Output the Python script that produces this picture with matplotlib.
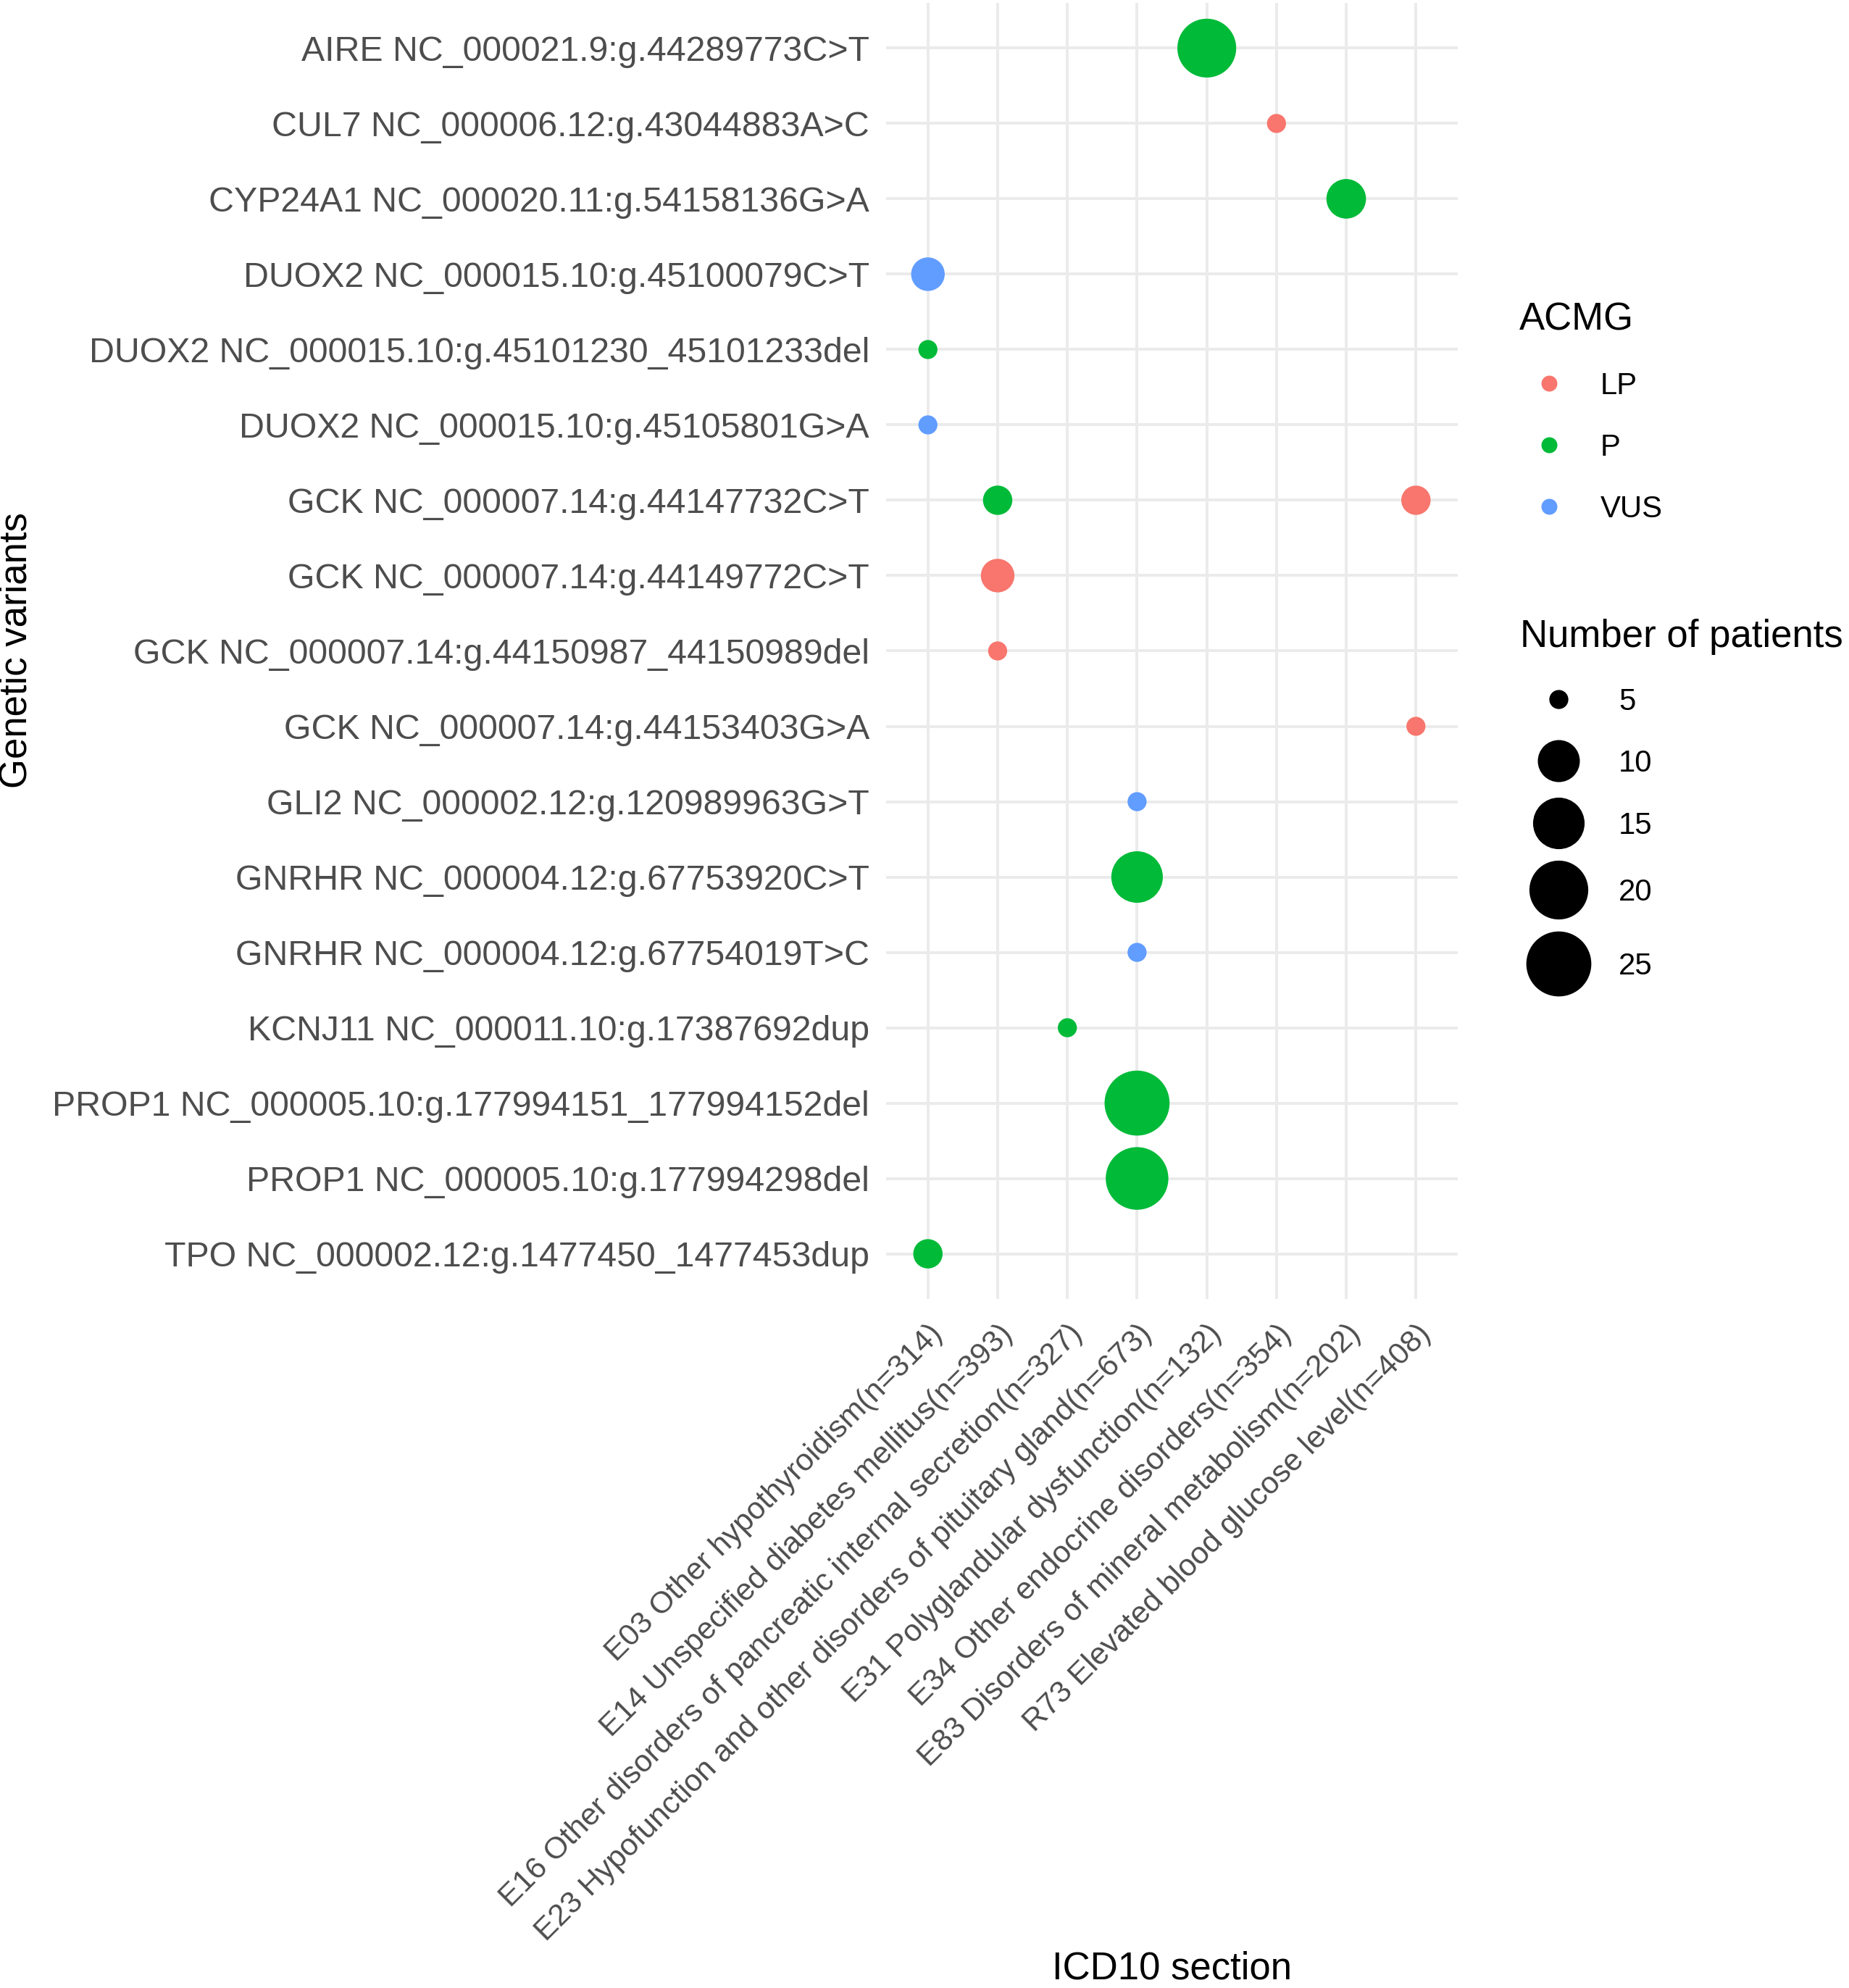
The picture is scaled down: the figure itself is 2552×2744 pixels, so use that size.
import matplotlib
matplotlib.use('Agg')
import matplotlib.pyplot as plt
import numpy as np

plt.rcParams['font.family'] = ['Liberation Sans', 'DejaVu Sans']

# ---------------- data ----------------
variants = [
    "AIRE NC_000021.9:g.44289773C>T",
    "CUL7 NC_000006.12:g.43044883A>C",
    "CYP24A1 NC_000020.11:g.54158136G>A",
    "DUOX2 NC_000015.10:g.45100079C>T",
    "DUOX2 NC_000015.10:g.45101230_45101233del",
    "DUOX2 NC_000015.10:g.45105801G>A",
    "GCK NC_000007.14:g.44147732C>T",
    "GCK NC_000007.14:g.44149772C>T",
    "GCK NC_000007.14:g.44150987_44150989del",
    "GCK NC_000007.14:g.44153403G>A",
    "GLI2 NC_000002.12:g.120989963G>T",
    "GNRHR NC_000004.12:g.67753920C>T",
    "GNRHR NC_000004.12:g.67754019T>C",
    "KCNJ11 NC_000011.10:g.17387692dup",
    "PROP1 NC_000005.10:g.177994151_177994152del",
    "PROP1 NC_000005.10:g.177994298del",
    "TPO NC_000002.12:g.1477450_1477453dup",
]

icd10 = [
    "E03 Other hypothyroidism(n=314)",
    "E14 Unspecified diabetes mellitus(n=393)",
    "E16 Other disorders of pancreatic internal secretion(n=327)",
    "E23 Hypofunction and other disorders of pituitary gland(n=673)",
    "E31 Polyglandular dysfunction(n=132)",
    "E34 Other endocrine disorders(n=354)",
    "E83 Disorders of mineral metabolism(n=202)",
    "R73 Elevated blood glucose level(n=408)",
]
icd_codes = [s.split(" ")[0] for s in icd10]

point_variant = [0, 1, 2, 3, 4, 5, 6, 6, 7, 8, 9, 10, 11, 12, 13, 14, 15, 16]
point_icd = ["E31", "E34", "E83", "E03", "E03", "E03", "E14", "R73", "E14",
             "E14", "R73", "E23", "E23", "E23", "E16", "E23", "E23", "E03"]
point_acmg = ["P", "LP", "P", "VUS", "P", "VUS", "P", "LP", "LP",
              "LP", "LP", "VUS", "P", "VUS", "P", "P", "P", "P"]
point_n = [20, 5, 9, 7, 5, 5, 6, 6, 7, 5, 5, 5, 15, 5, 5, 25, 23, 6]

acmg_levels = ["LP", "P", "VUS"]
acmg_colors = {"LP": "#F8766D", "P": "#00BA38", "VUS": "#619CFF"}
size_breaks = [5, 10, 15, 20, 25]

# ---------------- figure ----------------
W, H, DPI = 2552, 2744, 200
fig = plt.figure(figsize=(W / DPI, H / DPI), dpi=DPI)

px_left, px_right, px_top, px_bottom = 1223, 2012, 4, 1793
ax = fig.add_axes([px_left / W, 1 - px_bottom / H,
                   (px_right - px_left) / W, (px_bottom - px_top) / H])

vmin, vmax = min(point_n), max(point_n)
dmin_px, dmax_px = 26.3, 89.7


def diam_px(v):
    v = np.asarray(v, dtype=float)
    return dmin_px + (dmax_px - dmin_px) * np.sqrt((v - vmin) / (vmax - vmin))


def s_of(d_px):
    return (np.asarray(d_px) * 72.0 / DPI) ** 2


xs = [icd_codes.index(c) for c in point_icd]
ys = point_variant
cols = [acmg_colors[a] for a in point_acmg]
ax.scatter(xs, ys, s=s_of(diam_px(point_n)), c=cols, linewidths=0, zorder=3)

ax.set_xlim(-0.6, len(icd10) - 1 + 0.6)
ax.set_ylim(len(variants) - 1 + 0.6, -0.6)
ax.set_xticks(range(len(icd10)))
ax.set_yticks(range(len(variants)))
ax.set_yticklabels(variants, fontsize=17.4, color="#4D4D4D")
ax.set_xticklabels(icd10, fontsize=15.3, color="#4D4D4D", rotation=45,
                   ha="right", va="top", rotation_mode="anchor")
ax.tick_params(axis="y", length=0, pad=8.3)
ax.tick_params(axis="x", length=0, pad=10)
for sp in ax.spines.values():
    sp.set_visible(False)
ax.grid(True, color="#EBEBEB", linewidth=1.44, zorder=0)
ax.set_axisbelow(True)

# axis titles
fig.text(23 / W, 1 - 898 / H, "Genetic variants", rotation=90,
         ha="center", va="center", fontsize=19, color="black")
fig.text((px_left + px_right) / 2 / W, 12 / H, "ICD10 section",
         ha="center", va="baseline", fontsize=19, color="black")

# ---------------- legends (manual) ----------------
lg = fig.add_axes([0, 0, 1, 1], zorder=5)
lg.set_xlim(0, W)
lg.set_ylim(H, 0)
lg.axis("off")

leg_fs = 15.1
cap_half = 0.716 * leg_fs * DPI / 72 / 2

lg.text(2097, 456, "ACMG", fontsize=19, va="baseline", ha="left")
for i, lev in enumerate(acmg_levels):
    yc = 529 + i * 85
    lg.scatter([2138], [yc], s=s_of(22), c=acmg_colors[lev], linewidths=0)
    lg.text(2209, yc + cap_half, lev, fontsize=leg_fs, va="baseline", ha="left")

lg.text(2098, 893, "Number of patients", fontsize=19, va="baseline", ha="left")
dks = diam_px(size_breaks)
heights = np.maximum(85, dks + 16)
yc = 965.0
for i, (b, dk) in enumerate(zip(size_breaks, dks)):
    if i > 0:
        yc += (heights[i - 1] + heights[i]) / 2
    lg.scatter([2151], [yc], s=s_of(dk), c="black", linewidths=0)
    lg.text(2234, yc + cap_half, str(b), fontsize=leg_fs, va="baseline", ha="left")

fig.savefig("out.png", dpi=DPI, facecolor="white")
